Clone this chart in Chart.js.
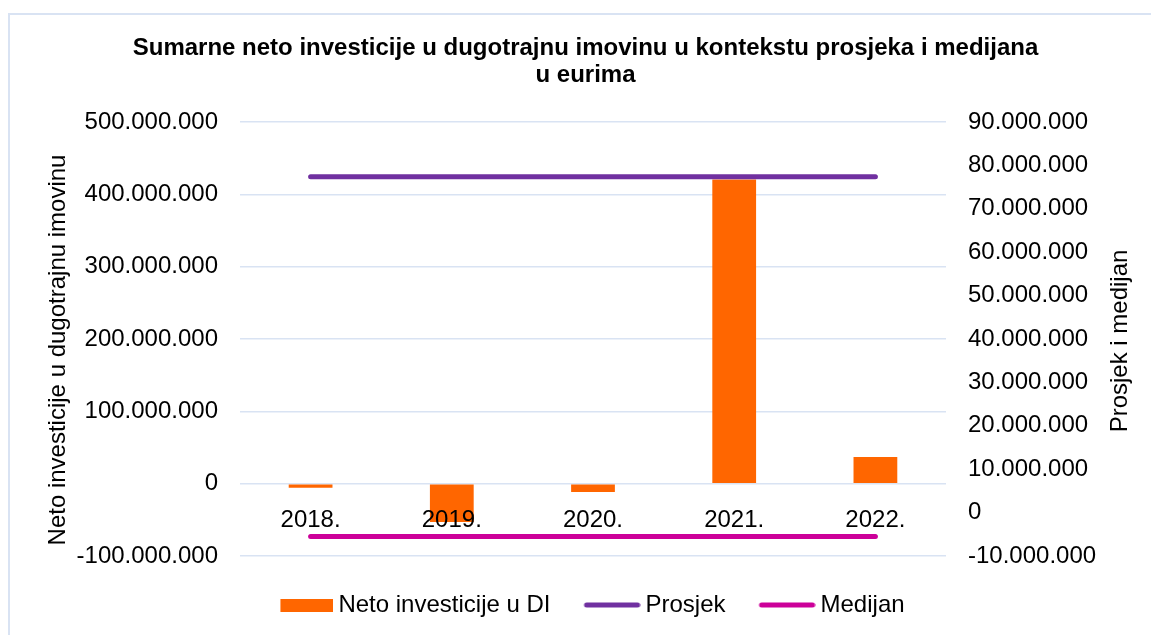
<!DOCTYPE html>
<html>
<head>
<meta charset="utf-8">
<script src="https://cdn.jsdelivr.net/npm/chart.js@4"></script>
<style>
  html, body { margin: 0; padding: 0; background: #fff; }
  #wrap { position: relative; width: 1151px; height: 635px; overflow: hidden; }
  #okvir {
    position: absolute; left: 8px; top: 13px; right: -10px; bottom: -10px;
    border-left: 2px solid #d9e3f3; border-top: 2px solid #d9e3f3;
  }
  #grafikon { position: absolute; left: 0; top: 0; }
</style>
</head>
<body>
<div id="wrap">
  <div id="okvir"></div>
  <canvas id="grafikon" width="1151" height="635"></canvas>
</div>
<script>
const godine = ["2018.", "2019.", "2020.", "2021.", "2022."];
const netoInvesticije = [-5500000, -53000000, -11600000, 420500000, 36800000];
const prosjek = [77400000, 77400000, 77400000, 77400000, 77400000];
const medijan = [-5500000, -5500000, -5500000, -5500000, -5500000];

const lijevaOs = { min: -100000000, max: 500000000, korak: 100000000 };
const desnaOs = { min: -10000000, max: 90000000, korak: 10000000 };

const naslovLijevo = "Neto investicije u dugotrajnu imovinu";
const naslovDesno = "Prosjek i medijan";

const NARANCASTA = "#FF6600";
const LJUBICASTA = "#7030A0";
const MAGENTA = "#CC0099";
const MREZA = "#d9e3f3";
const FONT = "'Liberation Sans', Arial, sans-serif";

Chart.defaults.color = "#000";
Chart.defaults.font.family = FONT;

// 500000000 -> "500.000.000"
function formatBroj(v) {
  const s = Math.abs(Math.round(v)).toString().replace(/\B(?=(\d{3})+(?!\d))/g, ".");
  return (v < 0 ? "-" : "") + s;
}

// legend symbols: wide box for the bars, thick rounded line for the lines.
// the symbol sits at the right end of a wider transparent canvas so it ends just before the text
const ZNAK_SIRINA = 46;
function legendaZnak(vrsta, boja) {
  const c = document.createElement("canvas");
  const ctx = c.getContext("2d");
  c.width = ZNAK_SIRINA + 14;
  if (vrsta === "bar") {
    c.height = 13;
    ctx.fillStyle = boja;
    ctx.fillRect(c.width - 53, 0, 53, 13);
  } else {
    c.height = 6;
    ctx.strokeStyle = boja;
    ctx.lineWidth = 5;
    ctx.lineCap = "round";
    ctx.beginPath();
    ctx.moveTo(c.width - 54, 3);
    ctx.lineTo(c.width - 3, 3);
    ctx.stroke();
  }
  return c;
}

// both axis titles read bottom-to-top; legend row nudged a bit to the right
const nasloviOsi = {
  id: "nasloviOsi",
  afterLayout(chart) {
    chart.legend.left += 7;
    chart.legend.right += 7;
  },
  afterDraw(chart) {
    const c = chart.ctx;
    c.save();
    c.font = "24px " + FONT;
    c.fillStyle = "#000";
    c.textAlign = "center";
    c.textBaseline = "middle";
    [[naslovLijevo, 58, 350], [naslovDesno, 1120, 341]].forEach(([t, x, y]) => {
      c.save();
      c.translate(x, y);
      c.rotate(-Math.PI / 2);
      c.fillText(t, 0, 0);
      c.restore();
    });
    c.restore();
  },
};

const ctx = document.getElementById("grafikon").getContext("2d");
new Chart(ctx, {
  type: "bar",
  data: {
    labels: godine,
    datasets: [
      {
        type: "bar",
        label: "Neto investicije u DI",
        data: netoInvesticije,
        backgroundColor: NARANCASTA,
        yAxisID: "y",
        order: 2,
        barPercentage: 0.31,
        categoryPercentage: 1,
      },
      {
        type: "line",
        label: "Prosjek",
        data: prosjek,
        borderColor: LJUBICASTA,
        backgroundColor: LJUBICASTA,
        borderWidth: 5,
        borderCapStyle: "round",
        pointRadius: 0,
        fill: false,
        yAxisID: "y1",
        order: 1,
      },
      {
        type: "line",
        label: "Medijan",
        data: medijan,
        borderColor: MAGENTA,
        backgroundColor: MAGENTA,
        borderWidth: 5,
        borderCapStyle: "round",
        pointRadius: 0,
        fill: false,
        yAxisID: "y1",
        order: 1,
      },
    ],
  },
  plugins: [nasloviOsi],
  options: {
    responsive: false,
    devicePixelRatio: 1,
    animation: false,
    layout: { padding: { top: 14, left: 20, right: 0, bottom: 8 } },
    plugins: {
      tooltip: { enabled: false },
      title: {
        display: true,
        text: [
          "Sumarne neto investicije u dugotrajnu imovinu u kontekstu prosjeka i medijana",
          "u eurima",
        ],
        font: { size: 24, weight: "bold", lineHeight: 1.125 },
        padding: { top: 20.5, bottom: 33.5 },
      },
      legend: {
        position: "bottom",
        labels: {
          font: { size: 24 },
          padding: 37,
          usePointStyle: true,
          pointStyleWidth: ZNAK_SIRINA,
          generateLabels: (chart) =>
            chart.data.datasets.map((ds, i) => ({
              text: ds.label,
              datasetIndex: i,
              hidden: !chart.isDatasetVisible(i),
              fillStyle: ds.backgroundColor,
              strokeStyle: ds.backgroundColor,
              lineWidth: 0,
              pointStyle: legendaZnak(ds.type, ds.type === "bar" ? ds.backgroundColor : ds.borderColor),
            })),
        },
      },
    },
    scales: {
      x: {
        type: "category",
        position: { y: 0 },
        grid: { display: false },
        border: { display: false },
        // labels drawn over the bars
        ticks: { z: 1, font: { size: 24 }, padding: 14, maxRotation: 0, autoSkip: false },
      },
      y: {
        position: "left",
        min: lijevaOs.min,
        max: lijevaOs.max,
        grid: { color: MREZA, lineWidth: 1.5, drawTicks: false },
        border: { display: false },
        ticks: {
          stepSize: lijevaOs.korak,
          font: { size: 24 },
          padding: 22,
          callback: (v) => formatBroj(v),
        },
        afterFit: (s) => { s.width = 220; },
      },
      y1: {
        position: "right",
        min: desnaOs.min,
        max: desnaOs.max,
        grid: { display: false, drawTicks: false },
        border: { display: false },
        ticks: {
          stepSize: desnaOs.korak,
          font: { size: 24 },
          padding: 22,
          callback: (v) => formatBroj(v),
        },
        afterFit: (s) => { s.width = 205; },
      },
    },
  },
});
</script>
</body>
</html>
